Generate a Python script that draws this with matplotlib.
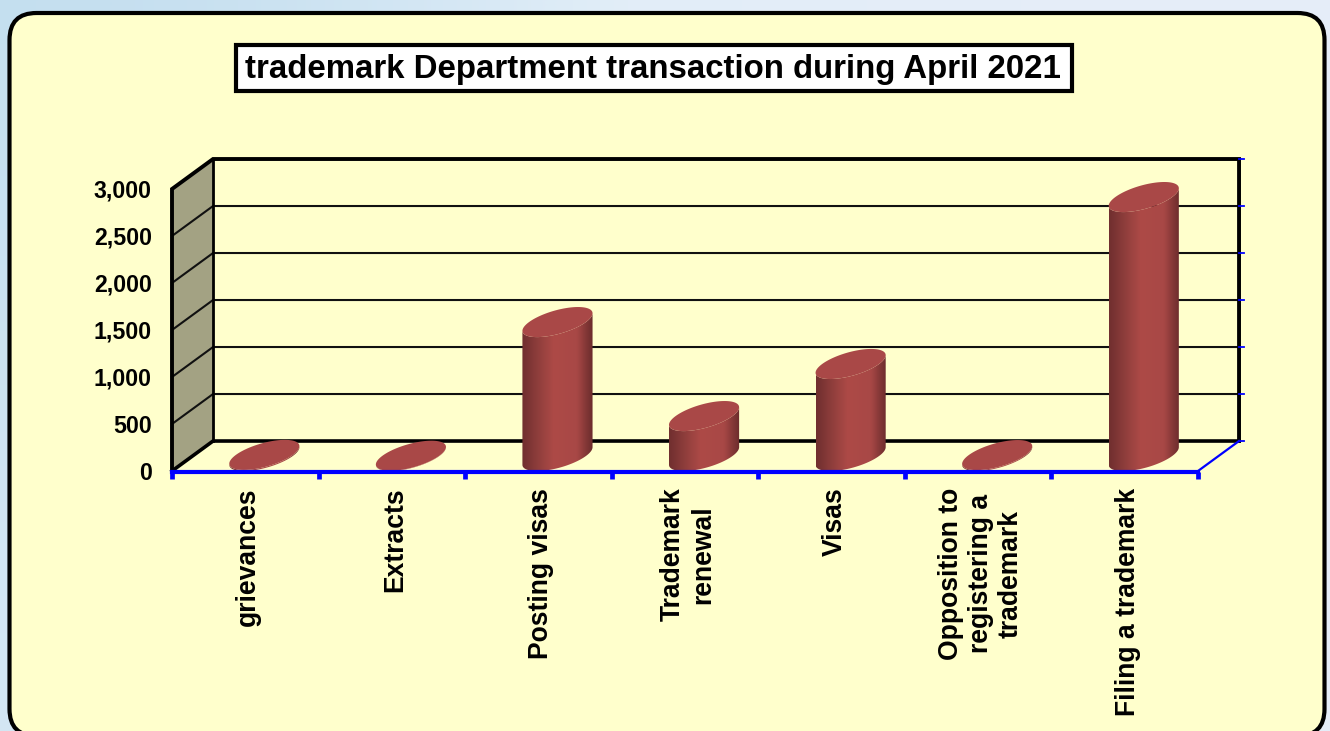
import numpy as np
import matplotlib
matplotlib.use('Agg')
import matplotlib.pyplot as plt
from matplotlib.colors import LinearSegmentedColormap
from matplotlib.patches import FancyBboxPatch, Polygon, PathPatch, Rectangle
from matplotlib.path import Path

plt.rcParams['font.family'] = ['Liberation Sans', 'DejaVu Sans']

# values
categories = ['grievances', 'Extracts', 'Posting visas', 'Trademark\nrenewal', 'Visas',
              'Opposition to\nregistering a\ntrademark', 'Filing a trademark']
values = [12, 3, 1425, 425, 979, 10, 2755]
y_ticks = [0, 500, 1000, 1500, 2000, 2500, 3000]
title = 'trademark Department transaction during April 2021'

W, H = 1330, 731
fig = plt.figure(figsize=(W / 100, H / 100), dpi=100)

# page background and rounded panel
bg = fig.add_axes([0, 0, 1, 1], zorder=0)
bg.set_xlim(0, W)
bg.set_ylim(H, 0)
bg.axis('off')
grad = np.array([[0.0, 0.55, 1.0], [0.25, 0.7, 1.0]])
bg_cmap = LinearSegmentedColormap.from_list('bg', ['#c3deef', '#e2eef8', '#e6edf8'])
bg.imshow(grad, cmap=bg_cmap, extent=[0, W, H, 0], aspect='auto', interpolation='bicubic')
bg.add_patch(FancyBboxPatch((9.5, 13), 1315, 723, boxstyle='round,pad=0,rounding_size=27',
                            fc='#ffffcc', ec='black', lw=3))
# title box
bg.add_patch(Rectangle((236, 45), 836, 46, fc='white', ec='black', lw=3))
bg.text(653, 69.5, title, fontsize=23.8, fontweight='bold', ha='center', va='center')

# front plane of the 3d box
left, right, top, bottom = 172, 1198, 189, 471
ax = fig.add_axes([left / W, 1 - bottom / H, (right - left) / W, (bottom - top) / H], zorder=1)
ax.patch.set_visible(False)

dep_x, dep_y = 0.28, 319      # box depth, data units
half_a, half_v = 0.194, 160   # ellipse of the cylinders

ax.add_patch(Polygon([(0, 0), (dep_x, dep_y), (dep_x, 3000 + dep_y), (0, 3000)],
                     fc='#a3a283', ec='none', clip_on=False, zorder=1))
for t in y_ticks[1:-1]:
    ax.plot([0, dep_x, 7 + dep_x], [t, t + dep_y, t + dep_y], color='#111111', lw=1.5,
            clip_on=False, zorder=1.5)
ax.plot([0, dep_x, 7 + dep_x], [0, dep_y, dep_y], color='black', lw=2.6, clip_on=False, zorder=1.6)
ax.plot([0, 0, dep_x, 7 + dep_x, 7 + dep_x], [0, 3000, 3000 + dep_y, 3000 + dep_y, dep_y],
        color='black', lw=2.8, clip_on=False, zorder=1.6, solid_joinstyle='miter')
ax.plot([dep_x, dep_x], [dep_y, 3000 + dep_y], color='black', lw=2.0, clip_on=False, zorder=1.6)

# blue bits on the right and the back
ax.plot([7, 7 + dep_x], [0, dep_y], color='#0000ff', lw=1.6, clip_on=False, zorder=1.7)
for t in y_ticks:
    ax.plot([7 + dep_x, 7 + dep_x + 0.035], [t + dep_y, t + dep_y], color='#0000ff', lw=1.3,
            clip_on=False, zorder=1.7)

# cylinders
cyl_cmap = LinearSegmentedColormap.from_list(
    'cyl', [(0, '#702f2f'), (0.22, '#8f3e3c'), (0.45, '#ad4a47'), (0.78, '#a84846'), (1, '#6b2c2c')])
vx = dep_x / 2
a = half_a
t0 = np.arctan2(vx, a)
tt = np.linspace(t0 + np.pi, t0 + 2 * np.pi, 60)
arc_x = a * np.cos(tt) + vx * np.sin(tt)
arc_y = half_v * np.sin(tt)
full = np.linspace(0, 2 * np.pi, 120)
ell_x = a * np.cos(full) + vx * np.sin(full)
ell_y = half_v * np.sin(full)
half_w = arc_x.max()

for i, v in enumerate(values):
    cx = i + 0.49 + vx
    cy = dep_y / 2
    body = np.vstack([np.column_stack([cx + arc_x, cy + arc_y]),
                      np.column_stack([cx + arc_x[::-1], cy + v + arc_y[::-1]])])
    im = ax.imshow(np.linspace(0, 1, 64).reshape(1, -1), cmap=cyl_cmap, aspect='auto',
                   extent=[cx - half_w, cx + half_w, cy - 200, cy + v + 200], zorder=3)
    clip = PathPatch(Path(np.vstack([body, body[:1]]), closed=True), transform=ax.transData)
    im.set_clip_box(fig.bbox)
    im.set_clip_path(clip)
    ax.fill(cx + ell_x, cy + v + ell_y, color='#a94847', lw=0, clip_on=False, zorder=4)

ax.set_xlim(0, 7)
ax.set_ylim(0, 3000)

for s in ['top', 'right', 'left']:
    ax.spines[s].set_visible(False)
ax.spines['bottom'].set_position(('outward', 1))
ax.spines['bottom'].set_color('#0000ff')
ax.spines['bottom'].set_linewidth(3)
ax.spines['bottom'].set_zorder(10)

ax.set_yticks(y_ticks)
ax.set_yticklabels([f'{t:,}' for t in y_ticks], fontsize=16.7, fontweight='bold')
ax.tick_params(axis='y', length=0, pad=14.5)
ax.set_xticks(range(8))
ax.set_xticklabels([])
ax.tick_params(axis='x', which='major', color='#0000ff', width=3.4, length=5, direction='out')
ax.set_xticks(np.arange(7) + 0.52, minor=True)
ax.set_xticklabels(categories, minor=True, rotation=90, fontsize=19.1, fontweight='bold',
                   va='top', ha='center', multialignment='center', linespacing=1.2)
ax.tick_params(axis='x', which='minor', length=0, pad=11)

fig.savefig('out.png', dpi=100)
